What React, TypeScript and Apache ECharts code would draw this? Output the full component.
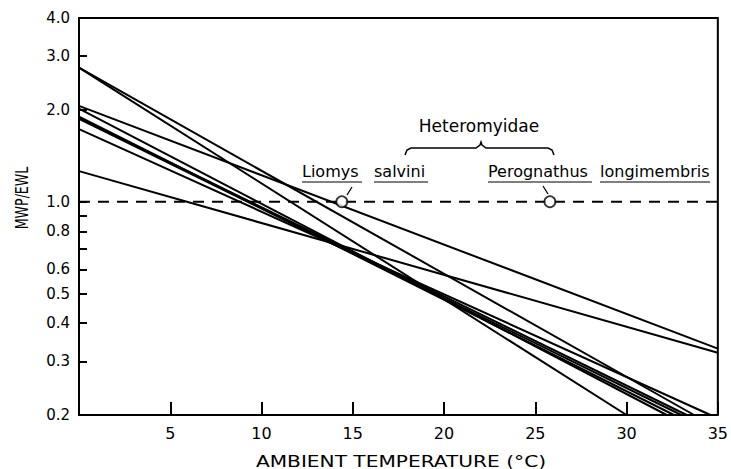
import React, { useEffect, useRef } from "react";
import * as echarts from "echarts";

// Regression lines of MWP/EWL vs ambient temperature (each line: start -> end)
const lineStartTemp = [0, 0, 0, 0, 0, 0, 0, 0, 0];
const lineStartRatio = [2.75, 2.75, 2.06, 2.02, 1.9, 1.88, 1.87, 1.73, 1.26];
const lineEndTemp = [30.0, 33.7, 35, 32.2, 32.6, 33.3, 33.0, 34.6, 35];
const lineEndRatio = [0.2, 0.2, 0.33, 0.2, 0.2, 0.2, 0.2, 0.2, 0.32];

// Reference line MWP/EWL = 1.0
const refLineTemps = [0, 35];
const refLineRatio = [1.0, 1.0];

// Species crossing points
const speciesNames = ["Liomys salvini", "Perognathus longimembris"];
const speciesTemps = [14.4, 25.8];
const speciesRatio = [1.0, 1.0];

// Axis ticks
const xTicks = [0, 5, 10, 15, 20, 25, 30, 35];
const yTickValues = [0.3, 0.4, 0.5, 0.6, 0.7, 0.8, 0.9, 1.0, 2.0, 3.0];
const yLabelValues = [0.2, 0.3, 0.4, 0.5, 0.6, 0.8, 1.0, 2.0, 3.0, 4.0];
const yMin = 0.2;
const yMax = 4.0;

const FONT = "'DejaVu Sans', 'Liberation Sans', sans-serif";
const lg = (v: number) => Math.log10(v);

export default function App() {
  const ref = useRef<HTMLDivElement>(null);

  useEffect(() => {
    if (!ref.current) return;
    const chart = echarts.init(ref.current, undefined, { renderer: "svg" });

    const regression = lineStartRatio.map((s, i) => ({
      type: "line",
      data: [
        [lineStartTemp[i], lg(s)],
        [lineEndTemp[i], lg(lineEndRatio[i])],
      ],
      symbol: "none",
      lineStyle: { color: "#000", width: 2 },
      z: 3,
      silent: true,
    }));

    const option: any = {
      animation: false,
      backgroundColor: "#fff",
      grid: {
        left: 79,
        right: 11,
        top: 18,
        bottom: 54,
        show: true,
        borderColor: "#000",
        borderWidth: 2,
        backgroundColor: "transparent",
      },
      xAxis: {
        type: "value",
        position: "bottom",
        min: xTicks[0],
        max: xTicks[xTicks.length - 1],
        interval: 5,
        axisLine: { show: false, onZero: false },
        axisTick: { show: true, inside: true, length: 13, lineStyle: { color: "#000", width: 2 } },
        axisLabel: {
          color: "#000",
          fontFamily: FONT,
          fontSize: 16,
          margin: 10,
          formatter: (v: number) => (v === 0 ? "" : String(v)),
        },
        splitLine: { show: false },
      },
      yAxis: {
        type: "value",
        position: "left",
        min: lg(yMin),
        max: lg(yMax),
        axisLine: { show: false, onZero: false },
        axisTick: {
          show: true,
          inside: true,
          length: 8,
          customValues: yTickValues.map(lg),
          lineStyle: { color: "#000", width: 2 },
        },
        axisLabel: {
          color: "#000",
          fontFamily: FONT,
          fontSize: 15,
          margin: 9,
          customValues: yLabelValues.map(lg),
          formatter: (v: number) => Math.pow(10, v).toFixed(1),
        },
        splitLine: { show: false },
      },
      series: [
        ...regression,
        {
          type: "line",
          data: refLineTemps.map((t, i) => [t, lg(refLineRatio[i])]),
          symbol: "none",
          lineStyle: { color: "#000", width: 2, type: [11, 8] },
          z: 4,
          silent: true,
        },
        {
          type: "scatter",
          data: speciesTemps.map((t, i) => ({ name: speciesNames[i], value: [t, lg(speciesRatio[i])] })),
          symbol: "circle",
          symbolSize: 11,
          itemStyle: { color: "#fff", borderColor: "#000", borderWidth: 1.8 },
          z: 5,
          silent: true,
        },
      ],
      graphic: [
        {
          type: "text",
          x: 22,
          y: 198,
          rotation: Math.PI / 2,
          scaleX: 0.7,
          style: {
            text: "MWP/EWL",
            font: `18px ${FONT}`,
            fill: "#000",
            align: "center",
            verticalAlign: "middle",
          },
        },
        {
          type: "text",
          x: 401,
          y: 461,
          scaleX: 1.26,
          style: {
            text: "AMBIENT TEMPERATURE (°C)",
            font: `16px ${FONT}`,
            fill: "#000",
            align: "center",
            verticalAlign: "middle",
          },
        },
        {
          type: "text",
          x: 479,
          y: 126,
          style: {
            text: "Heteromyidae",
            font: `17px ${FONT}`,
            fill: "#000",
            align: "center",
            verticalAlign: "middle",
          },
        },
        {
          type: "polyline",
          shape: {
            points: [
              [405, 155],
              [407, 150],
              [411, 148],
              [476, 148],
              [480, 145],
              [481, 142],
              [482, 145],
              [486, 148],
              [548, 148],
              [552, 150],
              [554, 155],
            ],
          },
          style: { stroke: "#000", lineWidth: 1.5, fill: "none" },
        },
        { type: "text", x: 302, y: 171, style: { text: "Liomys", font: `16px ${FONT}`, fill: "#000", verticalAlign: "middle" } },
        { type: "text", x: 374, y: 171, style: { text: "salvini", font: `16px ${FONT}`, fill: "#000", verticalAlign: "middle" } },
        { type: "text", x: 488, y: 171, style: { text: "Perognathus", font: `16px ${FONT}`, fill: "#000", verticalAlign: "middle" } },
        { type: "text", x: 600, y: 171, style: { text: "longimembris", font: `16px ${FONT}`, fill: "#000", verticalAlign: "middle" } },
        { type: "line", shape: { x1: 302, y1: 182, x2: 362, y2: 182 }, style: { stroke: "#000", lineWidth: 1.2 } },
        { type: "line", shape: { x1: 374, y1: 182, x2: 428, y2: 182 }, style: { stroke: "#000", lineWidth: 1.2 } },
        { type: "line", shape: { x1: 488, y1: 182, x2: 592, y2: 182 }, style: { stroke: "#000", lineWidth: 1.2 } },
        { type: "line", shape: { x1: 600, y1: 182, x2: 710, y2: 182 }, style: { stroke: "#000", lineWidth: 1.2 } },
        { type: "line", shape: { x1: 352, y1: 187, x2: 347, y2: 195 }, style: { stroke: "#000", lineWidth: 1.3 } },
        { type: "line", shape: { x1: 543, y1: 186, x2: 548, y2: 194 }, style: { stroke: "#000", lineWidth: 1.3 } },
      ],
    };

    chart.setOption(option);
    return () => chart.dispose();
  }, []);

  return (
    <div
      ref={ref}
      style={{ position: "fixed", left: 0, top: 0, width: 731, height: 469, background: "#fff" }}
    />
  );
}
